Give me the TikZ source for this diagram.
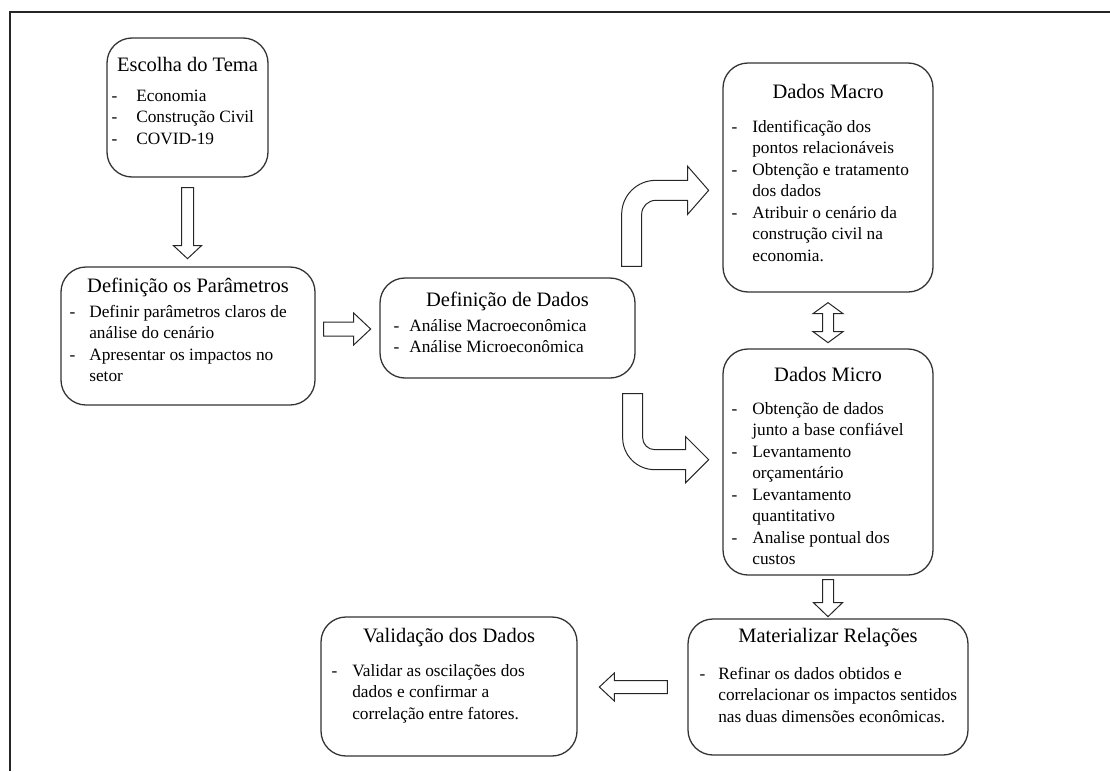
\documentclass[tikz,border=0pt]{standalone}
\usepackage{fontspec}
\setmainfont{LiberationSerif}[Extension=.ttf, UprightFont=*-Regular, BoldFont=*-Bold,
    ItalicFont=*-Italic, BoldItalicFont=*-BoldItalic]

\newcommand{\dashlist}[2]{\begin{tabular}[t]{@{}l@{\hspace{#1pt}}l@{}}#2\end{tabular}}

\begin{document}
\begin{tikzpicture}[x=1pt, y=-1pt,
    box/.style = {draw=black!80, line width=1.3pt, rounded corners=25pt},
    title/.style = {font=\fontsize{20.5}{24}\selectfont, inner sep=0pt},
    items/.style = {font=\fontsize{17.3}{21.5}\selectfont, inner sep=0pt, anchor=base west},
    blockarrow/.style = {draw=black!85, line width=1pt, fill=white, line join=miter}]
    \useasboundingbox (0,0) rectangle (1110,771);
    \draw[line width=1.5pt, black!85] (10,771) -- (10,12) -- (1110,12);

    \node[box, minimum width=161pt, minimum height=139pt] (tema) at (187.5,107.5) {};
    \node[title] (temaT) at ([yshift=-27pt]tema.north) {Escolha do Tema};
    \node[items] (temaL) at ([xshift=5pt, yshift=-64pt]tema.north west)
        {\dashlist{19}{- & Economia\\ - & Construção Civil\\ - & COVID-19}};

    \node[box, minimum width=254pt, minimum height=138pt] (param) at (188,336) {};
    \node[title] (paramT) at ([yshift=-21pt]param.north) {Definição os Parâmetros};
    \node[items] (paramL) at ([xshift=9pt, yshift=-51pt]param.north west)
        {\dashlist{14}{- & Definir parâmetros claros de\\ & análise do cenário\\
         - & Apresentar os impactos no\\ & setor}};

    \node[box, minimum width=255pt, minimum height=100pt] (dados) at (507.5,328) {};
    \node[title] (dadosT) at ([yshift=-24pt]dados.north) {Definição de Dados};
    \node[items] (dadosL) at ([xshift=14pt, yshift=-54pt]dados.north west)
        {\dashlist{10}{- & Análise Macroeconômica\\ - & Análise Microeconômica}};

    \node[box, minimum width=210pt, minimum height=229pt] (macro) at (828,177.5) {};
    \node[title] (macroT) at ([yshift=-29pt]macro.north) {Dados Macro};
    \node[items] (macroL) at ([xshift=9pt, yshift=-70pt]macro.north west)
        {\dashlist{15}{- & Identificação dos\\ & pontos relacionáveis\\
         - & Obtenção e tratamento\\ & dos dados\\
         - & Atribuir o cenário da\\ & construção civil na\\ & economia.}};

    \node[box, minimum width=210pt, minimum height=226pt] (micro) at (828,462) {};
    \node[title] (microT) at ([yshift=-26pt]micro.north) {Dados Micro};
    \node[items] (microL) at ([xshift=9pt, yshift=-66pt]micro.north west)
        {\dashlist{15}{- & Obtenção de dados\\ & junto a base confiável\\
         - & Levantamento\\ & orçamentário\\
         - & Levantamento\\ & quantitativo\\
         - & Analise pontual dos\\ & custos}};

    \node[box, minimum width=280pt, minimum height=136pt] (relacoes) at (828,687) {};
    \node[title] (relacoesT) at ([yshift=-19pt]relacoes.north) {Materializar Relações};
    \node[items] (relacoesL) at ([xshift=12pt, yshift=-61pt]relacoes.north west)
        {\dashlist{13}{- & Refinar os dados obtidos e\\ & correlacionar os impactos sentidos\\
         & nas duas dimensões econômicas.}};

    \node[box, minimum width=256pt, minimum height=139pt] (valida) at (449,686.5) {};
    \node[title] (validaT) at ([yshift=-21pt]valida.north) {Validação dos Dados};
    \node[items] (validaL) at ([xshift=11pt, yshift=-60pt]valida.north west)
        {\dashlist{15}{- & Validar as oscilações dos\\ & dados e confirmar a\\
         & correlação entre fatores.}};

    \begin{scope}[shift={(tema.south)}]
        \draw[blockarrow] (-6,10) -- (-6,68) -- (-14,68) -- (0,81) -- (14,68) -- (6,68) -- (6,10) -- cycle;
    \end{scope}
    \begin{scope}[shift={(param.east)}]
        \draw[blockarrow] (8,-14) -- (38,-14) -- (38,-23) -- (55,-7) -- (38,9) -- (38,0) -- (8,0) -- cycle;
    \end{scope}
    \begin{scope}[shift={(dados.north east)}]
        \draw[blockarrow] (-14,-11) -- (-14,-63) .. controls (-14,-81.8) and (1.2,-97) .. (20,-97)
            -- (52,-97) -- (52,-111) -- (73,-87) -- (52,-63) -- (52,-77) -- (20,-77)
            .. controls (12.3,-77) and (6,-70.7) .. (6,-63) -- (6,-11) -- cycle;
    \end{scope}
    \begin{scope}[shift={(dados.south east)}]
        \draw[blockarrow] (-13,15) -- (-13,59) .. controls (-13,76.7) and (1.3,91) .. (19,91)
            -- (50,91) -- (50,104) -- (73,81) -- (50,58) -- (50,71) -- (19,71)
            .. controls (12.4,71) and (7,65.6) .. (7,59) -- (7,15) -- cycle;
    \end{scope}
    \begin{scope}[shift={(macro.south)}]
        \draw[blockarrow] (0,10) -- (15,21) -- (5.5,21) -- (5.5,39) -- (15,39) -- (0,50)
            -- (-15,39) -- (-5.5,39) -- (-5.5,21) -- (-15,21) -- cycle;
    \end{scope}
    \begin{scope}[shift={(micro.south)}]
        \draw[blockarrow] (-5.5,4) -- (-5.5,27) -- (-14.5,27) -- (0,41) -- (14.5,27) -- (5.5,27) -- (5.5,4) -- cycle;
    \end{scope}
    \begin{scope}[shift={(relacoes.west)}]
        \draw[blockarrow] (-20,-6.5) -- (-73,-6.5) -- (-73,-14) -- (-88,0) -- (-73,14) -- (-73,6.5) -- (-20,6.5) -- cycle;
    \end{scope}
\end{tikzpicture}
\end{document}
